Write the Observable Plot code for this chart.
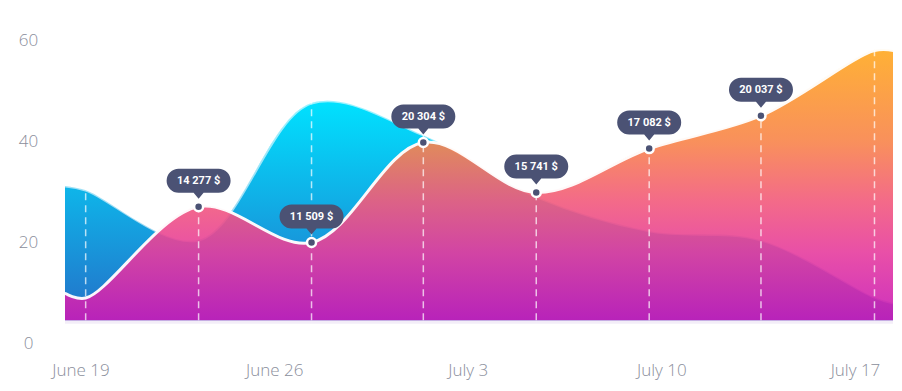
<!DOCTYPE html>
<html>
<head>
<meta charset="utf-8">
<script src="https://cdn.jsdelivr.net/npm/d3@7"></script>
<script src="https://cdn.jsdelivr.net/npm/@observablehq/plot@0.6"></script>
<style>
  html, body { margin: 0; padding: 0; background: #ffffff; }
  #chart { width: 902px; height: 391px; }
</style>
</head>
<body>
<div id="chart"></div>
<script>
// ---- data ----
const dates = [
  "2023-06-18T10:30", "2023-06-19T04:00", "2023-06-23T06:00", "2023-06-27T08:00",
  "2023-07-01T09:00", "2023-07-05T11:00", "2023-07-09T13:00", "2023-07-13T14:00",
  "2023-07-17T16:30", "2023-07-18T09:00"
];
const revenue   = [9.9, 9.0, 27.1, 20.0, 39.8, 29.9, 38.6, 45.1, 58.0, 58.0];
const secondary = [31.1, 30.3, 20.4, 47.5, 41.2, 29.0, 22.2, 20.4, 9.1, 7.9];
const labels    = [null, null, "14 277 $", "11 509 $", "20 304 $", "15 741 $", "17 082 $", "20 037 $", null, null];
const isPoint   = [false, true, true, true, true, true, true, true, true, false];
const baseValue = 4.5;
const yTicks = [0, 20, 40, 60];
const xTickDates = ["2023-06-19T00:00", "2023-06-26T00:00", "2023-07-03T00:00", "2023-07-10T00:00", "2023-07-17T00:00"];
const xTickLabels = ["June 19", "June 26", "July 3", "July 10", "July 17"];

const rows = dates.map((d, i) => ({
  date: new Date(d), a: revenue[i], b: secondary[i], label: labels[i], point: isPoint[i]
}));
const points = rows.filter(d => d.point);
const labelled = rows.filter(d => d.label);
const tickDates = xTickDates.map(d => new Date(d));

const curve = "catmull-rom";
const bubbleColor = "#4b5274";
const axisColor = "#8a8e9b";

// speech-bubble symbol drawn relative to the data point
const bubble = {
  draw(ctx) {
    const top = -38, bot = -14, r = 12, hw = 32;
    ctx.moveTo(-hw + r, top);
    ctx.lineTo(hw - r, top);
    ctx.arc(hw - r, top + r, r, -Math.PI / 2, Math.PI / 2);
    ctx.lineTo(5, bot);
    ctx.lineTo(0, bot + 6);
    ctx.lineTo(-5, bot);
    ctx.lineTo(-hw + r, bot);
    ctx.arc(-hw + r, top + r, r, Math.PI / 2, Math.PI * 1.5);
    ctx.closePath();
  }
};

const chart = Plot.plot({
  width: 902,
  height: 391,
  marginLeft: 65,
  marginRight: 9,
  marginTop: 40,
  marginBottom: 48,
  style: { fontFamily: "'Open Sans', sans-serif", background: "#ffffff" },
  x: { type: "time", domain: d3.extent(rows, d => d.date) },
  y: { domain: [0, 60], axis: null },
  marks: [
    Plot.ruleY([baseValue], { stroke: "#f3eef8", strokeWidth: 3, dy: 1.5 }),
    Plot.areaY(rows, { x: "date", y1: baseValue, y2: "b", curve, fill: "url(#gBlue)" }),
    Plot.lineY(rows, { x: "date", y: "b", curve, stroke: "#ffffff", strokeWidth: 2, strokeOpacity: 0.6 }),
    Plot.areaY(rows, { x: "date", y1: baseValue, y2: "a", curve, fill: "url(#gPink)", fillOpacity: 0.9 }),
    Plot.lineY(rows, { x: "date", y: "a", curve, stroke: "#ffffff", strokeWidth: 3, strokeOpacity: 0.95 }),
    Plot.ruleX(points, {
      x: "date", y1: baseValue, y2: d => Math.max(d.a, d.b),
      stroke: "#ffffff", strokeOpacity: 0.7, strokeWidth: 1.5, strokeDasharray: "7,5"
    }),
    Plot.dot(labelled, { x: "date", y: "a", symbol: bubble, r: 5, fill: bubbleColor, stroke: "none" }),
    Plot.text(labelled, {
      x: "date", y: "a", text: "label", dy: -26, fill: "#ffffff",
      fontSize: 11, fontWeight: 700, fontFamily: "Roboto, sans-serif"
    }),
    Plot.dot(labelled, { x: "date", y: "a", r: 4.5, fill: bubbleColor, stroke: "#ffffff", strokeWidth: 2.5 }),
    Plot.text(yTicks, {
      y: d => d, text: d => String(d), frameAnchor: "left", dx: -37,
      textAnchor: "middle", fontSize: 17, fontWeight: 300, fill: axisColor
    }),
    Plot.axisX({
      ticks: tickDates,
      tickFormat: d => xTickLabels[tickDates.findIndex(t => +t === +d)],
      tickSize: 0, tickPadding: 20, fontSize: 17, fontWeight: 300, color: axisColor
    })
  ]
});

document.getElementById("chart").appendChild(chart);

// gradients in user space, positioned through the y scale
const ys = chart.scale("y");
const svg = d3.select(chart);
const defs = svg.insert("defs", ":first-child");
const blue = defs.append("linearGradient").attr("id", "gBlue")
  .attr("gradientUnits", "userSpaceOnUse")
  .attr("x1", 0).attr("x2", 0).attr("y1", ys.apply(48)).attr("y2", ys.apply(baseValue));
blue.append("stop").attr("offset", 0).attr("stop-color", "#00e2ff");
blue.append("stop").attr("offset", 1).attr("stop-color", "#2470c8");
const pink = defs.append("linearGradient").attr("id", "gPink")
  .attr("gradientUnits", "userSpaceOnUse")
  .attr("x1", 0).attr("x2", 0).attr("y1", ys.apply(58)).attr("y2", ys.apply(baseValue));
[[0, "#ffa820"], [0.34, "#f8844a"], [0.56, "#f25a7c"], [0.75, "#e63c9e"], [1, "#c81ab8"]]
  .forEach(([o, c]) => pink.append("stop").attr("offset", o).attr("stop-color", c));
</script>
</body>
</html>
